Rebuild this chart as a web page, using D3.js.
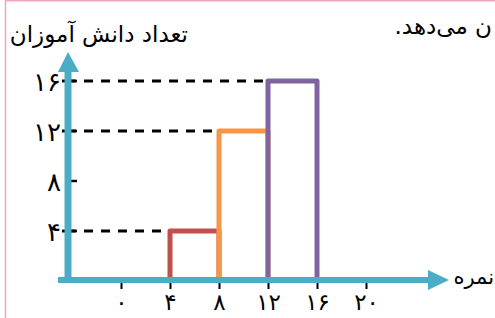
<!DOCTYPE html>
<html>
<head>
<meta charset="utf-8">
<script src="https://cdn.jsdelivr.net/npm/d3@7"></script>
<style>
  body { margin: 0; background: #fff; }
  svg { display: block; font-family: "DejaVu Sans", sans-serif; }
</style>
</head>
<body>
<div id="chart"></div>
<script>
// grade bins and student counts
const binStarts = [4, 8, 12];
const binEnds = [8, 12, 16];
const counts = [4, 12, 16];
const barColors = ["#c0504d", "#f79646", "#8064a2"];
const xTicks = [0, 4, 8, 12, 16, 20];
const yTicks = [4, 8, 12, 16];
const guideValues = [4, 12, 16];
const guideEnds = [6, 10, 14];
const yTitle = "تعداد دانش آموزان";
const xTitle = "نمره";
const pageText = "ن می‌دهد.";

const width = 495, height = 318;
const axisColor = "#4bacc6";

const faDigits = "۰۱۲۳۴۵۶۷۸۹";
function fa(n) { return String(n).replace(/\d/g, function(c) { return faDigits[+c]; }); }

let svg = d3.select("#chart").append("svg")
  .attr("width", width)
  .attr("height", height);

let x = d3.scaleLinear().domain([0, 20]).range([121, 366]);
let y = d3.scaleLinear().domain([0, 16]).range([281, 81]);
let x0 = 68, y0 = 280;

// page frame bits
svg.append("line").attr("x1", 5).attr("x2", width).attr("y1", 0.5).attr("y2", 0.5)
  .attr("stroke", "#f4a3c8").attr("stroke-width", 2);
svg.append("line").attr("x1", 5.5).attr("x2", 5.5).attr("y1", 0).attr("y2", height)
  .attr("stroke", "#f4a3c8").attr("stroke-width", 1.5);

svg.append("text")
  .attr("x", 492).attr("y", 34)
  .attr("direction", "rtl")
  .attr("text-anchor", "start")
  .attr("font-size", 23)
  .text(pageText);

// dashed guides
svg.selectAll(".guide")
  .data(guideValues)
  .enter().append("line")
  .attr("class", "guide")
  .attr("x1", x0 - 6).attr("x2", function(d, i) { return x(guideEnds[i]); })
  .attr("y1", function(d) { return y(d); })
  .attr("y2", function(d) { return y(d); })
  .attr("stroke", "#000")
  .attr("stroke-width", 2.8)
  .attr("stroke-dasharray", "14,8,9,8,9,8,9,8,9,8,9,8,9,8,9,8,9,8,9,8,9,8,9,8,9,8,9,8");

// y ticks
svg.selectAll(".ytick")
  .data(yTicks)
  .enter().append("line")
  .attr("class", "ytick")
  .attr("x1", x0).attr("x2", x0 + 9)
  .attr("y1", function(d) { return y(d); })
  .attr("y2", function(d) { return y(d); })
  .attr("stroke", "#000").attr("stroke-width", 2.5);

svg.selectAll(".ylabel")
  .data(yTicks)
  .enter().append("text")
  .attr("class", "ylabel")
  .attr("x", x0 - 7)
  .attr("y", function(d) { return y(d); })
  .attr("dy", "0.38em")
  .attr("text-anchor", "end")
  .attr("font-size", 26)
  .text(function(d) { return fa(d); });

// bars as open rectangles
svg.selectAll(".bar")
  .data(counts)
  .enter().append("path")
  .attr("class", "bar")
  .attr("d", function(d, i) {
    let l = x(binStarts[i]), r = x(binEnds[i]), t = y(d);
    return "M" + l + "," + y0 + "V" + t + "H" + r + "V" + y0;
  })
  .attr("fill", "none")
  .attr("stroke", function(d, i) { return barColors[i]; })
  .attr("stroke-width", 5)
  .attr("stroke-linejoin", "round")
  .attr("stroke-linecap", "round");

// x axis ticks and labels
let xAxis = d3.axisBottom(x)
  .tickValues(xTicks)
  .tickSize(9)
  .tickPadding(5)
  .tickFormat(fa);

let gx = svg.append("g")
  .attr("transform", "translate(0," + y0 + ")")
  .call(xAxis);
gx.select(".domain").remove();
gx.selectAll(".tick line").attr("stroke", "#000").attr("stroke-width", 2);
gx.selectAll(".tick text")
  .attr("fill", "#000")
  .attr("font-size", 23)
  .attr("font-family", "DejaVu Sans, sans-serif");

// axes with arrow heads
svg.append("line").attr("x1", 58).attr("x2", 430).attr("y1", y0).attr("y2", y0)
  .attr("stroke", axisColor).attr("stroke-width", 6);
svg.append("path").attr("d", "M428,270L449," + y0 + "L428,290Z").attr("fill", axisColor);
svg.append("line").attr("x1", x0).attr("x2", x0).attr("y1", 283).attr("y2", 70)
  .attr("stroke", axisColor).attr("stroke-width", 7);
svg.append("path").attr("d", "M58,72L" + x0 + ",52L79,72Z").attr("fill", axisColor);

// axis titles
svg.append("text")
  .attr("x", 188).attr("y", 42)
  .attr("direction", "rtl")
  .attr("text-anchor", "start")
  .attr("font-size", 23)
  .text(yTitle);

svg.append("text")
  .attr("x", 494).attr("y", 284)
  .attr("direction", "rtl")
  .attr("text-anchor", "start")
  .attr("font-size", 21)
  .text(xTitle);
</script>
</body>
</html>
